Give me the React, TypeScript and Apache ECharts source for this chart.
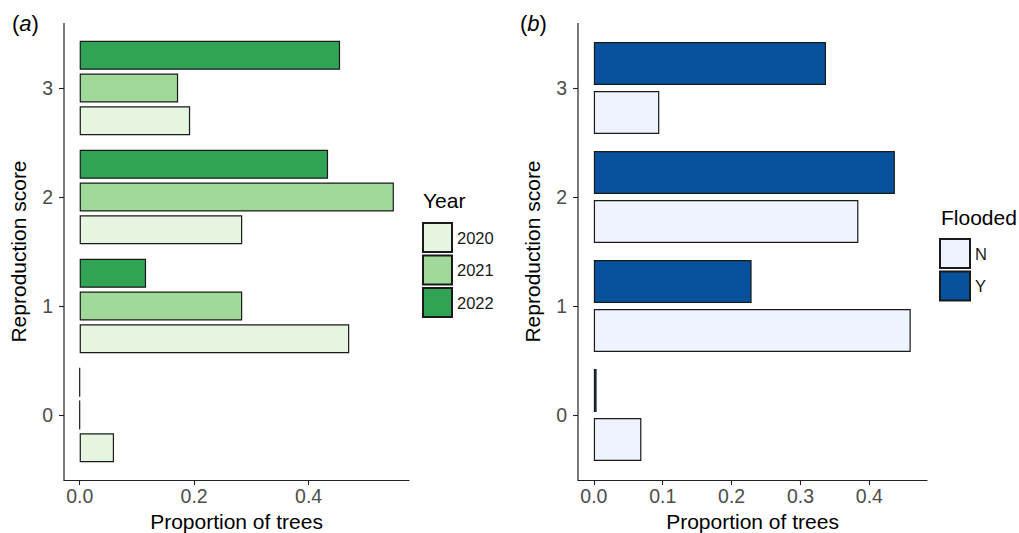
import React, { useEffect, useRef } from "react";
import * as echarts from "echarts";

const scores = ["0", "1", "2", "3"];
const year2020 = [0.06, 0.471, 0.284, 0.193];
const year2021 = [0, 0.284, 0.549, 0.172];
const year2022 = [0, 0.116, 0.434, 0.455];
const floodedN = [0.069, 0.46, 0.384, 0.095];
const floodedY = [0.004, 0.229, 0.437, 0.337];
const ticksA = [0, 0.2, 0.4];
const ticksB = [0, 0.1, 0.2, 0.3, 0.4];

const FONT = "Liberation Sans, Arial, sans-serif";
const AX = "#222222";

export default function App() {
  const ref = useRef<HTMLDivElement>(null);
  useEffect(() => {
    document.body.style.margin = "0";
    const chart = echarts.init(ref.current!, null, { renderer: "svg" });
    const border = { borderColor: "#1a1a1a", borderWidth: 1.2 };
    const xAxisBase = (gridIndex: number, min: number, max: number, ticks: number[]) => ({
      type: "value",
      gridIndex,
      min,
      max,
      offset: 10.5,
      splitLine: { show: false },
      axisLine: { show: true, onZero: false, lineStyle: { color: AX, width: 1.2 } },
      axisTick: { show: true, length: 5, lineStyle: { color: AX, width: 1.1 }, customValues: ticks },
      axisLabel: {
        customValues: ticks,
        formatter: (v: number) => v.toFixed(1),
        fontSize: 19.5,
        color: "#4d4d4d",
        fontFamily: FONT,
        margin: 6,
      },
      name: "Proportion of trees",
      nameLocation: "middle",
      nameGap: 28,
      nameTextStyle: { fontSize: 21, color: "#000", fontFamily: FONT },
    });
    const yAxisBase = (gridIndex: number) => ({
      type: "category",
      gridIndex,
      data: scores,
      position: "left",
      axisLine: { show: false, onZero: false },
      axisTick: { show: true, alignWithLabel: true, length: 5, lineStyle: { color: AX, width: 1.1 } },
      axisLabel: { fontSize: 19.5, color: "#4d4d4d", fontFamily: FONT, margin: 11 },
      name: "Reproduction score",
      nameLocation: "middle",
      nameGap: 35.5,
      nameTextStyle: { fontSize: 21, color: "#000", fontFamily: FONT },
    });
    chart.setOption({
      animation: false,
      textStyle: { fontFamily: FONT },
      grid: [
        { left: 64, right: 1019 - 409, top: 33.5, bottom: 533 - 469.5, outerBoundsMode: "none", containLabel: false },
        { left: 578, right: 1019 - 927, top: 33.5, bottom: 533 - 469.5, outerBoundsMode: "none", containLabel: false },
      ],
      xAxis: [xAxisBase(0, -0.0274, 0.5754, ticksA), xAxisBase(1, -0.023, 0.4836, ticksB)],
      yAxis: [yAxisBase(0), yAxisBase(1)],
      legend: [
        {
          data: ["2020", "2021", "2022"],
          orient: "vertical",
          left: 422,
          top: 222,
          padding: 0,
          itemWidth: 29,
          itemHeight: 29,
          itemGap: 1.5,
          icon: "rect",
          selectedMode: false,
          textStyle: { fontSize: 16.5, color: "#1a1a1a", fontFamily: FONT },
        },
        {
          data: ["N", "Y"],
          orient: "vertical",
          left: 939,
          top: 238,
          padding: 0,
          itemWidth: 30,
          itemHeight: 29,
          itemGap: 1.5,
          icon: "rect",
          selectedMode: false,
          textStyle: { fontSize: 16.5, color: "#1a1a1a", fontFamily: FONT },
        },
      ],
      series: [
        { name: "2022", type: "bar", xAxisIndex: 0, yAxisIndex: 0, data: year2022, barWidth: 29, barGap: "12.7%", itemStyle: { color: "#31a354", ...border } },
        { name: "2021", type: "bar", xAxisIndex: 0, yAxisIndex: 0, data: year2021, barWidth: 29, barGap: "12.7%", itemStyle: { color: "#a1d99b", ...border } },
        { name: "2020", type: "bar", xAxisIndex: 0, yAxisIndex: 0, data: year2020, barWidth: 29, barGap: "12.7%", itemStyle: { color: "#e5f5e0", ...border } },
        { name: "Y", type: "bar", xAxisIndex: 1, yAxisIndex: 1, data: floodedY, barWidth: 43, barGap: "14%", itemStyle: { color: "#08519c", ...border } },
        { name: "N", type: "bar", xAxisIndex: 1, yAxisIndex: 1, data: floodedN, barWidth: 43, barGap: "14%", itemStyle: { color: "#eff3ff", ...border } },
      ],
      graphic: [
        { type: "line", shape: { x1: 64, y1: 23, x2: 64, y2: 480.6 }, style: { stroke: AX, lineWidth: 1.2 } },
        { type: "line", shape: { x1: 578, y1: 23, x2: 578, y2: 480.6 }, style: { stroke: AX, lineWidth: 1.2 } },
        {
          type: "text",
          left: 12,
          top: 12,
          style: {
            text: "({i|a})",
            fontSize: 22,
            fill: "#000",
            fontFamily: FONT,
            rich: { i: { fontStyle: "italic", fontSize: 22, fontFamily: FONT, fill: "#000" } },
          },
        },
        {
          type: "text",
          left: 520,
          top: 12,
          style: {
            text: "({i|b})",
            fontSize: 22,
            fill: "#000",
            fontFamily: FONT,
            rich: { i: { fontStyle: "italic", fontSize: 22, fontFamily: FONT, fill: "#000" } },
          },
        },
        { type: "text", left: 423, top: 190, style: { text: "Year", fontSize: 21, fill: "#000", fontFamily: FONT } },
        { type: "text", left: 941, top: 207, style: { text: "Flooded", fontSize: 21, fill: "#000", fontFamily: FONT } },
      ],
    });
    return () => chart.dispose();
  }, []);
  return <div ref={ref} style={{ width: 1019, height: 533 }} />;
}
